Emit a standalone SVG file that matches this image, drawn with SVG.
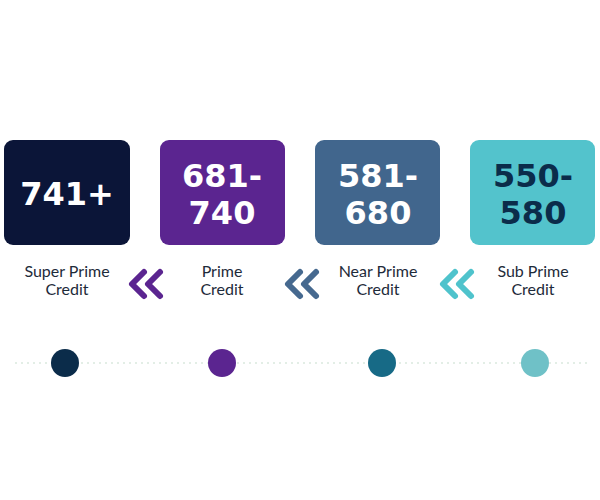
<svg xmlns="http://www.w3.org/2000/svg" width="600" height="500" viewBox="0 0 600 500">
<style>
.num{font-family:"DejaVu Sans",sans-serif;font-weight:bold;font-size:32px;text-anchor:middle;fill:#fff}
.lbl{font-family:"Lato","Liberation Sans",sans-serif;font-size:16px;text-anchor:middle;fill:#1e2b3a}
.chev{fill:none;stroke-width:6;stroke-linecap:round;stroke-linejoin:round}
</style>
<rect width="600" height="500" fill="#fff"/>
<g id="connectors">
<line x1="15" y1="363" x2="590" y2="363" stroke="#e3eee6" stroke-width="2" stroke-dasharray="2 4"/>
<g class="chev" stroke="#5b2590"><path d="M144 272 L132 284 L144 296 M160 272 L148 284 L160 296"/></g>
<g class="chev" stroke="#46698f"><path d="M300 272 L288 284 L300 296 M316 272 L304 284 L316 296"/></g>
<g class="chev" stroke="#4fc3cc"><path d="M455 272 L443 284 L455 296 M471 272 L459 284 L471 296"/></g>
</g>
<g id="n1"><rect x="4" y="140" width="126" height="105" rx="9" fill="#0b1538"/><text class="num" x="67" y="205">741+</text><text class="lbl" x="67" y="277">Super Prime</text><text class="lbl" x="67" y="295">Credit</text><circle cx="65" cy="363" r="14" fill="#0b2c4a"/></g>
<g id="n2"><rect x="160" y="140" width="125" height="105" rx="9" fill="#5b2590"/><text class="num" x="222" y="187">681-</text><text class="num" x="222" y="224">740</text><text class="lbl" x="222" y="277">Prime</text><text class="lbl" x="222" y="295">Credit</text><circle cx="222" cy="363" r="14" fill="#5b2590"/></g>
<g id="n3"><rect x="315" y="140" width="125" height="105" rx="9" fill="#41668d"/><text class="num" x="378" y="187">581-</text><text class="num" x="378" y="224">680</text><text class="lbl" x="378" y="277">Near Prime</text><text class="lbl" x="378" y="295">Credit</text><circle cx="382" cy="363" r="14" fill="#176a86"/></g>
<g id="n4"><rect x="470" y="140" width="125" height="105" rx="9" fill="#53c3cc"/><text class="num" x="533" y="187" style="fill:#0b2c4a">550-</text><text class="num" x="533" y="224" style="fill:#0b2c4a">580</text><text class="lbl" x="533" y="277">Sub Prime</text><text class="lbl" x="533" y="295">Credit</text><circle cx="535" cy="363" r="14" fill="#6fc1c7"/></g>
</svg>
